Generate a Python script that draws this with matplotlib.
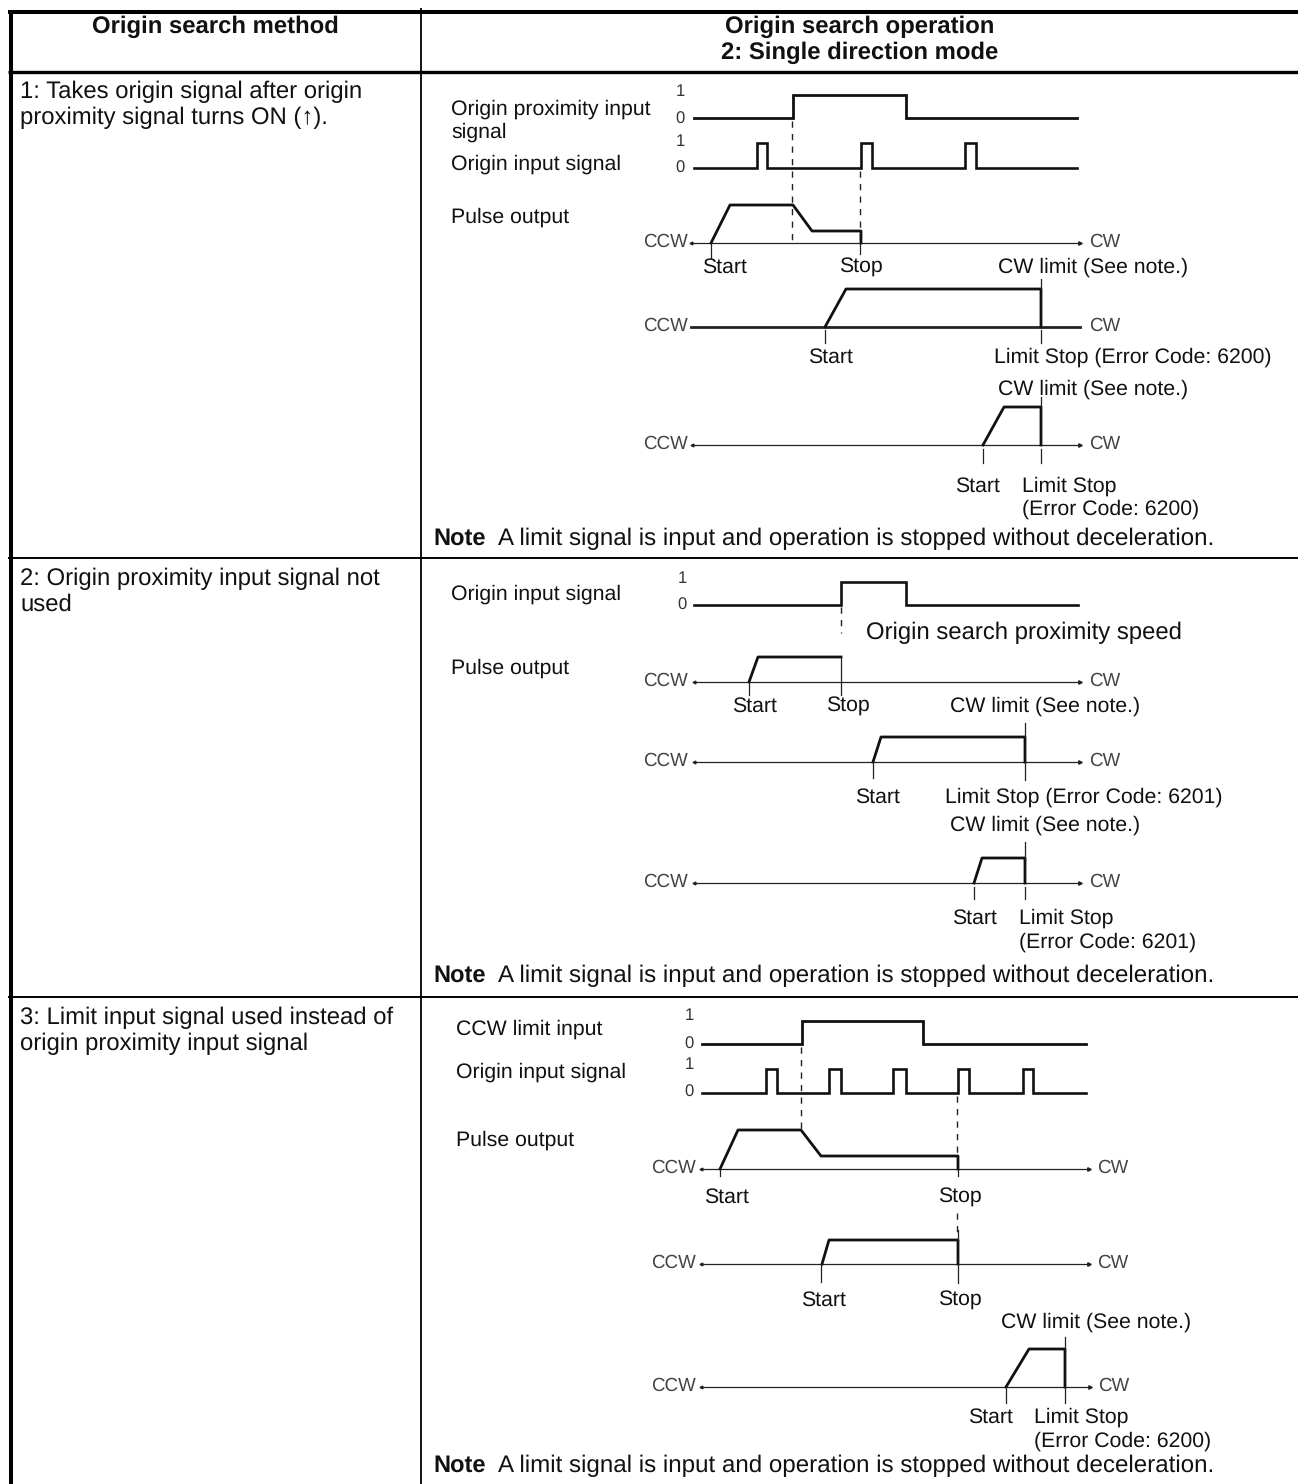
import matplotlib
matplotlib.use('Agg')
import matplotlib.pyplot as plt

plt.rcParams['font.family'] = ['Liberation Sans', 'DejaVu Sans']
plt.rcParams['text.hinting'] = 'no_hinting'

# table rules
ROW_LINES = [72, 558, 997]
COL_LINE = 421

# left column text
METHOD_TEXT = ["1: Takes origin signal after origin\nproximity signal turns ON (↑).",
               "2: Origin proximity input signal not\nused",
               "3: Limit input signal used instead of\norigin proximity input signal"]
METHOD_Y = [105, 592, 1031]
NOTE_TEXT = "A limit signal is input and operation is stopped without deceleration."
NOTE_Y = [539, 976, 1466]

# row 1 signals: edges on the time axis
r1_prox_edges = [793, 906]
r1_origin_edges = [757, 767, 861, 872, 965, 976]
r1_span = [694, 1077]
r1_prox_lev = [118, 95]
r1_origin_lev = [168, 143]

# row 1 speed profiles
r1a_x = [711, 730, 793, 812, 861, 861]
r1a_y = [243, 205, 205, 231, 231, 243]
r1b_x = [825, 846, 1041, 1041]
r1b_y = [327, 289, 289, 327]
r1c_x = [983, 1004, 1041, 1041]
r1c_y = [445, 407, 407, 445]

# row 2
r2_origin_edges = [841, 906]
r2_span = [694, 1078]
r2_origin_lev = [605, 582]
r2a_x = [749, 758, 841]
r2a_y = [682, 657, 657]
r2b_x = [873, 881, 1025, 1025]
r2b_y = [762, 737, 737, 762]
r2c_x = [974, 982, 1025, 1025]
r2c_y = [883, 858, 858, 883]

# row 3
r3_limit_edges = [802, 923]
r3_origin_edges = [766, 777, 829, 841, 893, 906, 958, 969, 1023, 1033]
r3_span = [702, 1086]
r3_limit_lev = [1044, 1021]
r3_origin_lev = [1093, 1069]
r3a_x = [720, 738, 801, 821, 958, 958]
r3a_y = [1169, 1130, 1130, 1156, 1156, 1169]
r3b_x = [822, 829, 958, 958]
r3b_y = [1264, 1240, 1240, 1264]
r3c_x = [1006, 1029, 1065, 1065]
r3c_y = [1387, 1349, 1349, 1387]


def step(ax, edges, span, lev, lw=1.9):
    xs, ys = [span[0]], [lev[0]]
    state = 0
    for e in edges:
        xs += [e, e]
        ys += [lev[state], lev[1 - state]]
        state = 1 - state
    xs.append(span[1])
    ys.append(lev[0])
    ax.plot(xs, ys, color='#111111', lw=lw, solid_joinstyle='miter')


def axis_line(ax, x0, x1, y, ccw, cw, lw=0.9, arrows=True):
    ax.plot([x0, x1], [y, y], color='#222222', lw=lw)
    if arrows:
        ax.plot([x1 - 1], [y], marker='>', ms=2.5, color='#222222')
        ax.plot([x0 + 1], [y], marker='<', ms=2, color='#222222')
    ax.text(ccw, y - 1, 'CCW', ha='center', va='center', fontsize=13.5, color='#444444')
    ax.text(cw, y - 1, 'CW', ha='center', va='center', fontsize=13.5, color='#444444')


def ticks(ax, segs):
    for x, y0, y1 in segs:
        ax.plot([x, x], [y0, y1], color='#222222', lw=0.9)


def dashed(ax, segs):
    for x, y0, y1 in segs:
        ax.plot([x, x], [y0, y1], color='#222222', lw=1.0, dashes=(4.5, 4.5))


def levels(ax, x, ys):
    for y, s in zip(ys, ['1', '0', '1', '0']):
        ax.text(x, y + 2, s, ha='center', va='center', fontsize=12, color='#333333')


def label(ax, x, y, s, ha='left', size=15.3):
    ax.text(x, y + 2, s, ha=ha, va='center', fontsize=size, color='#111111')


fig = plt.figure(figsize=(12.98, 14.84), dpi=100)
ax = fig.add_axes([0, 0, 1, 1])
ax.set_xlim(0, 1298)
ax.set_ylim(1484, 0)
ax.axis('off')

# table frame
ax.plot([8, 1298], [11.5, 11.5], color='black', lw=2.9, solid_capstyle='butt')
ax.plot([8, 1298], [ROW_LINES[0], ROW_LINES[0]], color='black', lw=2.4, solid_capstyle='butt')
ax.plot([8, 1298], [ROW_LINES[1], ROW_LINES[1]], color='black', lw=1.4, solid_capstyle='butt')
ax.plot([8, 1298], [ROW_LINES[2], ROW_LINES[2]], color='black', lw=1.4, solid_capstyle='butt')
ax.plot([11, 11], [10, 1484], color='black', lw=2.9, solid_capstyle='butt')
ax.plot([COL_LINE, COL_LINE], [8, 1484], color='black', lw=1.3, solid_capstyle='butt')

# header
ax.text(215, 27, 'Origin search method', ha='center', va='center', fontsize=17.2, fontweight='bold', color='#111111')
ax.text(860, 27, 'Origin search operation', ha='center', va='center', fontsize=17.2, fontweight='bold', color='#111111')
ax.text(860, 53, '2: Single direction mode', ha='center', va='center', fontsize=17.2, fontweight='bold', color='#111111')

for s, y in zip(METHOD_TEXT, METHOD_Y):
    ax.text(20, y, s, ha='left', va='center', fontsize=17.2, color='#111111', linespacing=1.2)
for y in NOTE_Y:
    ax.text(433, y, 'Note', ha='left', va='center', fontsize=17, fontweight='bold', color='#111111')
    ax.text(498, y, NOTE_TEXT, ha='left', va='center', fontsize=17.35, color='#111111')

# row 1
label(ax, 451, 107, 'Origin proximity input')
label(ax, 451, 130, 'signal')
label(ax, 451, 162, 'Origin input signal')
label(ax, 451, 215, 'Pulse output')
levels(ax, 680, [90, 117, 140, 166])
step(ax, r1_prox_edges, r1_span, r1_prox_lev, lw=2.0)
step(ax, r1_origin_edges, r1_span, r1_origin_lev)
dashed(ax, [(792, 121, 241), (860, 171, 240)])
axis_line(ax, 690, 1081, 243, 665, 1105)
ax.plot(r1a_x, r1a_y, color='#111111', lw=2.0)
ticks(ax, [(711, 243, 258), (860, 243, 254)])
label(ax, 724, 265, 'Start', ha='center')
label(ax, 861, 265, 'Stop', ha='center')
label(ax, 1093, 265, 'CW limit (See note.)', ha='center')
axis_line(ax, 691, 1080, 327, 665, 1105, lw=2.0, arrows=False)
ax.plot(r1b_x, r1b_y, color='#111111', lw=2.0)
ticks(ax, [(825, 330, 343), (1041, 330, 343), (1041, 279, 290)])
label(ax, 830, 355, 'Start', ha='center')
label(ax, 994, 355, 'Limit Stop (Error Code: 6200)')
label(ax, 1093, 387, 'CW limit (See note.)', ha='center')
axis_line(ax, 691, 1081, 445, 665, 1105)
ax.plot(r1c_x, r1c_y, color='#111111', lw=2.0)
ticks(ax, [(983, 449, 463), (1041, 449, 463), (1041, 397, 408)])
label(ax, 977, 484, 'Start', ha='center')
label(ax, 1022, 484, 'Limit Stop')
label(ax, 1022, 507, '(Error Code: 6200)')

# row 2
label(ax, 451, 592, 'Origin input signal')
label(ax, 451, 666, 'Pulse output')
levels(ax, 682, [577, 603])
step(ax, r2_origin_edges, r2_span, r2_origin_lev, lw=1.9)
dashed(ax, [(841, 607, 633)])
label(ax, 866, 631, 'Origin search proximity speed', size=17.2)
axis_line(ax, 693, 1081, 682, 665, 1105)
ax.plot(r2a_x, r2a_y, color='#111111', lw=2.0)
ticks(ax, [(749, 682, 695), (841, 657, 695)])
label(ax, 754, 704, 'Start', ha='center')
label(ax, 848, 704, 'Stop', ha='center')
label(ax, 1045, 704, 'CW limit (See note.)', ha='center')
axis_line(ax, 693, 1081, 762, 665, 1105)
ax.plot(r2b_x, r2b_y, color='#111111', lw=2.0)
ticks(ax, [(873, 762, 778), (1025, 762, 780), (1025, 723, 738)])
label(ax, 877, 795, 'Start', ha='center')
label(ax, 945, 795, 'Limit Stop (Error Code: 6201)')
label(ax, 1045, 823, 'CW limit (See note.)', ha='center')
axis_line(ax, 693, 1081, 883, 665, 1105)
ax.plot(r2c_x, r2c_y, color='#111111', lw=2.0)
ticks(ax, [(974, 887, 899), (1025, 887, 899), (1025, 842, 859)])
label(ax, 974, 916, 'Start', ha='center')
label(ax, 1019, 916, 'Limit Stop')
label(ax, 1019, 940, '(Error Code: 6201)')

# row 3
label(ax, 456, 1027, 'CCW limit input')
label(ax, 456, 1070, 'Origin input signal')
label(ax, 456, 1138, 'Pulse output')
levels(ax, 689, [1014, 1042, 1063, 1090])
step(ax, r3_limit_edges, r3_span, r3_limit_lev, lw=2.0)
step(ax, r3_origin_edges, r3_span, r3_origin_lev)
dashed(ax, [(801, 1047, 1130), (957, 1096, 1156), (957, 1213, 1238)])
axis_line(ax, 700, 1090, 1169, 673, 1113)
ax.plot(r3a_x, r3a_y, color='#111111', lw=2.0)
ticks(ax, [(720, 1169, 1176), (958, 1169, 1176)])
label(ax, 726, 1195, 'Start', ha='center')
label(ax, 960, 1195, 'Stop', ha='center')
axis_line(ax, 700, 1090, 1264, 673, 1113)
ax.plot(r3b_x, r3b_y, color='#111111', lw=2.0)
ticks(ax, [(821, 1264, 1282), (958, 1264, 1283), (958, 1230, 1241)])
label(ax, 823, 1298, 'Start', ha='center')
label(ax, 960, 1298, 'Stop', ha='center')
label(ax, 1096, 1320, 'CW limit (See note.)', ha='center')
axis_line(ax, 700, 1091, 1387, 673, 1114)
ax.plot(r3c_x, r3c_y, color='#111111', lw=2.0)
ticks(ax, [(1006, 1387, 1403), (1065, 1387, 1403), (1065, 1337, 1350)])
label(ax, 990, 1415, 'Start', ha='center')
label(ax, 1034, 1415, 'Limit Stop')
label(ax, 1034, 1439, '(Error Code: 6200)')

fig.savefig('out.png', dpi=100)
